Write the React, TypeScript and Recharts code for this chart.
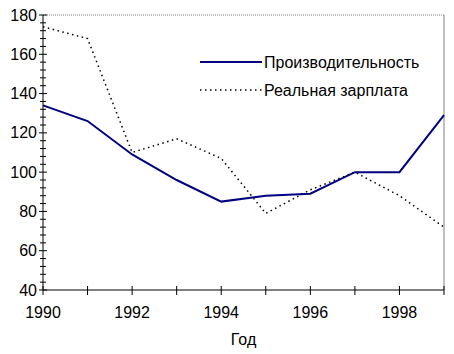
import {LineChart, Line, XAxis, YAxis, ReferenceLine, Legend} from 'recharts';

import type {ReactElement} from 'react';

const years = [1990, 1991, 1992, 1993, 1994, 1995, 1996, 1997, 1998, 1999];
const productivity = [134, 126, 109, 96, 85, 88, 89, 100, 100, 129];
const realWage = [174, 168, 110, 117, 107, 79, 91, 100, 88, 72];
const yTicks = [40, 44, 48, 52, 56, 60, 64, 68, 72, 76, 80, 84, 88, 92, 96, 100, 104, 108, 112, 116, 120, 124, 128, 132, 136, 140, 144, 148, 152, 156, 160, 164, 168, 172, 176, 180];

const FONT = 'Arial, "Liberation Sans", sans-serif';

const data = years.map((year, i) => ({year, productivity: productivity[i], wage: realWage[i]}));

function YTick(props: any): ReactElement {
	const {x, y, payload} = props;
	const major = payload.value % 20 === 0;
	return (
		<g>
			<line x1={x - (major ? 4 : 3)} x2={x + (major ? 4 : 3)} y1={y} y2={y} stroke={'#000'} strokeWidth={1} />
			{major && (
				<text x={x - 6} y={y} dy={5.5} textAnchor={'end'} fontSize={16} fontFamily={FONT} fill={'#000'}>
					{payload.value}
				</text>
			)}
		</g>
	);
}

function XTick(props: any): ReactElement {
	const {x, y, payload} = props;
	return (
		<g>
			<line x1={x} x2={x} y1={y - 4} y2={y + 5} stroke={'#000'} strokeWidth={1} />
			{payload.value % 2 === 0 && (
				<text x={x} y={y} dy={28} textAnchor={'middle'} fontSize={16} fontFamily={FONT} fill={'#000'}>
					{payload.value}
				</text>
			)}
		</g>
	);
}

function LegendBox(): ReactElement {
	return (
		<svg width={240} height={50} style={{display: 'block'}}>
			<line x1={0} x2={62} y1={10} y2={10} stroke={'#000080'} strokeWidth={2} />
			<text x={64} y={15.5} fontSize={16} fontFamily={FONT} fill={'#000'}>{'Производительность'}</text>
			<line x1={0} x2={62} y1={38} y2={38} stroke={'#000'} strokeWidth={1.5} strokeDasharray={'1.5 3.5'} />
			<text x={64} y={43.5} fontSize={16} fontFamily={FONT} fill={'#000'}>{'Реальная зарплата'}</text>
		</svg>
	);
}

function App(): ReactElement {
	return (
		<div style={{position: 'absolute', left: 0, top: 0, width: 454, height: 354, background: '#fff'}}>
			<LineChart width={454} height={354} data={data} margin={{top: 15, right: 10, left: 0, bottom: 0}}>
				<XAxis
					dataKey={'year'}
					type={'number'}
					domain={[1990, 1999]}
					ticks={years}
					interval={0}
					tickSize={0}
					tickMargin={0}
					tick={<XTick />}
					stroke={'#000'}
					height={64}
					label={{value: 'Год', position: 'insideBottom', offset: 9, fontSize: 16, fontFamily: FONT, fill: '#000'}}
				/>
				<YAxis
					type={'number'}
					domain={[40, 180]}
					ticks={yTicks}
					interval={0}
					tickSize={0}
					tickMargin={0}
					tick={<YTick />}
					stroke={'#000'}
					width={43}
				/>
				<ReferenceLine y={180} stroke={'#808080'} strokeDasharray={'1 1'} />
				<ReferenceLine x={1999} stroke={'#808080'} />
				<Legend
					layout={'horizontal'}
					verticalAlign={'middle'}
					align={'center'}
					content={<LegendBox />}
					wrapperStyle={{position: 'absolute', left: 200, top: 52, width: 240}}
				/>
				<Line
					type={'linear'}
					dataKey={'wage'}
					stroke={'#000'}
					strokeWidth={1.5}
					strokeDasharray={'1.5 3.5'}
					dot={false}
					isAnimationActive={false}
				/>
				<Line
					type={'linear'}
					dataKey={'productivity'}
					stroke={'#000080'}
					strokeWidth={2}
					dot={false}
					isAnimationActive={false}
				/>
			</LineChart>
		</div>
	);
}

export default App;
